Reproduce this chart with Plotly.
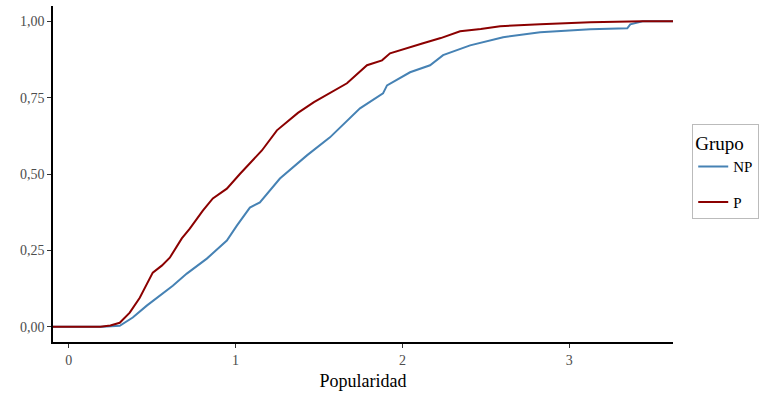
import plotly.graph_objects as go

# Empirical cumulative distribution of "Popularidad" by group
np_x = [-0.094, 0.20, 0.306, 0.384, 0.468, 0.546, 0.624, 0.708, 0.828, 0.948, 1.008,
        1.086, 1.146, 1.266, 1.428, 1.566, 1.746, 1.884, 1.908, 2.046, 2.166, 2.244,
        2.406, 2.604, 2.826, 3.126, 3.348, 3.366, 3.44, 3.622]
np_y = [0, 0, 0.003, 0.030, 0.069, 0.100, 0.134, 0.174, 0.223, 0.282, 0.331,
        0.390, 0.407, 0.485, 0.561, 0.620, 0.715, 0.764, 0.790, 0.833, 0.856, 0.889,
        0.921, 0.948, 0.964, 0.974, 0.977, 0.990, 1.0, 1.0]

p_x = [-0.094, 0.19, 0.25, 0.306, 0.366, 0.426, 0.504, 0.558, 0.606, 0.678, 0.726,
       0.804, 0.864, 0.948, 1.026, 1.10, 1.158, 1.248, 1.374, 1.47, 1.566, 1.668,
       1.788, 1.878, 1.926, 2.0, 2.124, 2.23, 2.346, 2.47, 2.586, 2.826, 3.126, 3.44, 3.622]
p_y = [0, 0, 0.004, 0.013, 0.046, 0.095, 0.177, 0.200, 0.226, 0.289, 0.321,
       0.380, 0.420, 0.452, 0.500, 0.544, 0.577, 0.643, 0.700, 0.735, 0.764, 0.797,
       0.856, 0.872, 0.895, 0.908, 0.928, 0.945, 0.967, 0.975, 0.984, 0.990, 0.997, 1.0, 1.0]

groups = ["NP", "P"]
colors = {"NP": "#4682B4", "P": "#8B0000"}
series = {"NP": (np_x, np_y), "P": (p_x, p_y)}

FONT = "Liberation Serif, Times New Roman, serif"

fig = go.Figure()
for g in groups:
    xs, ys = series[g]
    fig.add_trace(go.Scatter(
        x=xs, y=ys, mode="lines", name=g, legendgroup=g,
        line=dict(color=colors[g], width=2),
    ))

fig.update_layout(
    width=770, height=395,
    margin=dict(l=53, r=97, t=6, b=53),
    paper_bgcolor="white", plot_bgcolor="white",
    separators=", ",
    font=dict(family=FONT, size=14, color="#4D4D4D"),
    showlegend=True,
    legend=dict(
        title=dict(text="Grupo", font=dict(size=19, color="black", family=FONT)),
        font=dict(size=15, color="black", family=FONT),
        x=1.031, xanchor="left", y=0.506, yanchor="middle",
        bordercolor="#BBBBBB", borderwidth=1,
        tracegroupgap=13,
    ),
    xaxis=dict(
        range=[-0.094, 3.622], tickvals=[0, 1, 2, 3],
        showgrid=False, zeroline=False,
        showline=True, linecolor="black", linewidth=1.6,
        ticks="outside", ticklen=4, tickcolor="#333333", tickwidth=1,
        tickfont=dict(size=14, color="#4D4D4D"),
        title=dict(text="Popularidad", font=dict(size=18, color="black"), standoff=8),
    ),
    yaxis=dict(
        range=[-0.05, 1.05], tickvals=[0, 0.25, 0.5, 0.75, 1.0], tickformat=".2f",
        showgrid=False, zeroline=False,
        showline=True, linecolor="black", linewidth=1.6,
        ticks="outside", ticklen=4, tickcolor="#333333", tickwidth=1,
        tickfont=dict(size=14, color="#4D4D4D"),
    ),
)

fig.write_html("out.html")
